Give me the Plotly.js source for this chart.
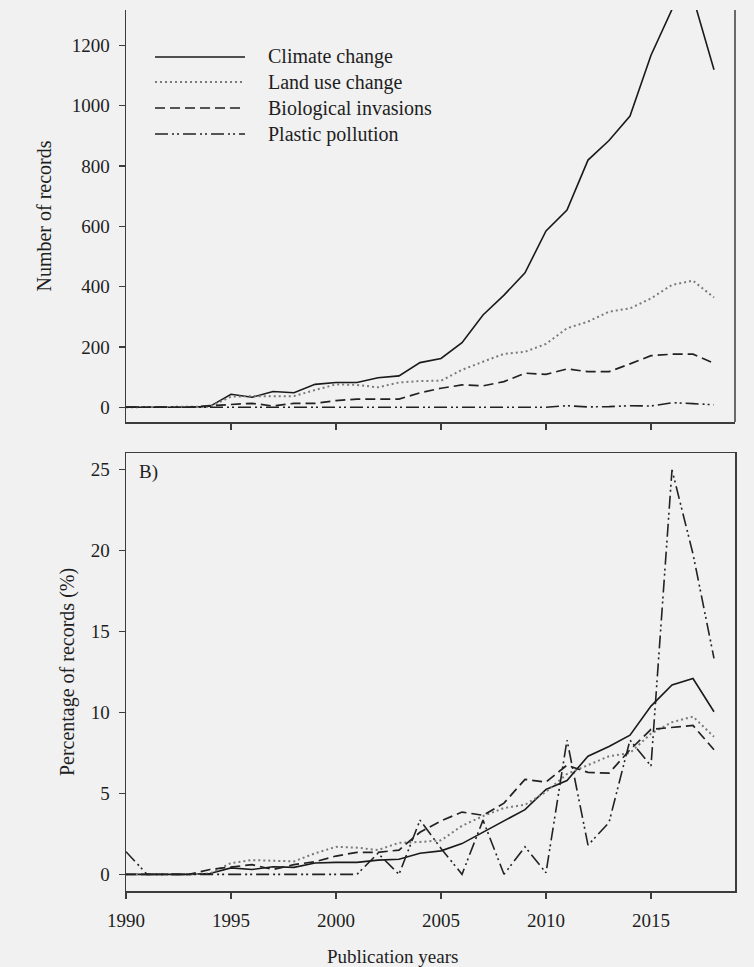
<!DOCTYPE html>
<html>
<head>
<meta charset="utf-8">
<script src="https://cdn.plot.ly/plotly-3.0.1.min.js"></script>
<style>
  html, body { margin: 0; padding: 0; background: #f1f1f1; }
  #chart { width: 754px; height: 967px; }
</style>
</head>
<body>
<div id="chart"></div>
<script>
// ---------- data ----------
const years = [1990,1991,1992,1993,1994,1995,1996,1997,1998,1999,2000,2001,2002,2003,2004,
               2005,2006,2007,2008,2009,2010,2011,2012,2013,2014,2015,2016,2017,2018];

const seriesNames = ["Climate change", "Land use change", "Biological invasions", "Plastic pollution"];

// Panel A: number of records
const climateCount = [0,0,0,0,3,43,33,52,48,76,82,82,98,104,148,162,214,306,372,446,585,654,820,885,966,1168,1320,1360,1120];
const landCount    = [0,0,0,0,2,35,37,36,37,57,76,74,66,82,87,88,124,151,177,184,210,262,284,317,328,361,406,420,364];
const bioCount     = [0,0,0,0,5,8,13,4,13,13,22,27,27,27,48,63,74,71,85,113,109,127,118,118,144,171,176,176,146];
const plasticCount = [1,0,0,0,0,0,0,0,0,0,0,0,1,0,2,1,0,2,0,1,0,5,1,2,5,4,15,12,8];

// Panel B: percentage of records (%)
const climatePct = [0,0,0,0,0.05,0.4,0.3,0.47,0.43,0.7,0.74,0.74,0.88,0.93,1.3,1.45,1.9,2.6,3.3,4.0,5.25,5.8,7.3,7.9,8.6,10.4,11.7,12.1,10.05];
const landPct    = [0,0,0,0,0.05,0.7,0.88,0.85,0.8,1.3,1.7,1.65,1.5,1.95,2.0,2.1,3.0,3.6,4.1,4.3,5.1,6.2,6.75,7.3,7.5,8.7,9.4,9.75,8.5];
const bioPct     = [0,0,0,0,0.3,0.45,0.6,0.3,0.6,0.78,1.13,1.36,1.36,1.5,2.6,3.3,3.85,3.65,4.4,5.87,5.7,6.75,6.3,6.25,7.7,8.96,9.1,9.2,7.7];
const plasticPct = [1.4,0,0,0,0,0,0,0,0,0,0,0,1.3,0,3.35,1.6,0,3.35,0,1.7,0.1,8.3,1.8,3.2,8.3,6.7,25.0,19.8,13.35];

const countTicks = [0,200,400,600,800,1000,1200];
const pctTicks = [0,5,10,15,20,25];
const yearTicks = [1990,1995,2000,2005,2010,2015];

// ---------- styles ----------
const FONT = "Liberation Serif, Times New Roman, serif";
const TXT = "#1e1e1e";
const styles = [
  {color: "#1a1a1a", width: 1.6, dash: "solid"},
  {color: "#7a7a7a", width: 2,   dash: "2px,3px"},
  {color: "#222222", width: 1.7, dash: "10px,5px"},
  {color: "#222222", width: 1.6, dash: "13px,4px,2px,3px,2px,4px"}
];

const countData = [climateCount, landCount, bioCount, plasticCount];
const pctData = [climatePct, landPct, bioPct, plasticPct];

const traces = [];
countData.forEach((d, i) => traces.push({
  x: years, y: d, type: "scatter", mode: "lines", name: seriesNames[i],
  line: styles[i], xaxis: "x", yaxis: "y", showlegend: false
}));
pctData.forEach((d, i) => traces.push({
  x: years, y: d, type: "scatter", mode: "lines", name: seriesNames[i],
  line: styles[i], xaxis: "x2", yaxis: "y2", showlegend: false
}));

// ---------- geometry helpers (pixel -> paper) ----------
const W = 754, H = 967, ML = 126, MR = 19, MT = 10, MB = 76;
const PW = W - ML - MR, PH = H - MT - MB;
const px = v => (v - ML) / PW;
const py = v => 1 - (v - MT) / PH;

const axisCommon = {
  showline: true, linecolor: "#3c3c3c", linewidth: 1.5,
  ticks: "outside", ticklen: 6, tickwidth: 1.3, tickcolor: "#3c3c3c",
  showgrid: false, zeroline: false,
  tickfont: {family: FONT, size: 19, color: TXT}
};

// custom legend (line samples + labels) in the upper-left of panel A
const legendY = [57, 82, 108, 134];
const shapes = [
  // right frame of panel A
  {type: "line", xref: "x domain", yref: "y domain", x0: 1, x1: 1, y0: 0, y1: 1,
   line: {color: "#3c3c3c", width: 1.5}}
];
const annotations = [];
seriesNames.forEach((n, i) => {
  shapes.push({type: "line", xref: "paper", yref: "paper",
    x0: px(155), x1: px(245), y0: py(legendY[i]), y1: py(legendY[i]),
    line: styles[i]});
  annotations.push({xref: "paper", yref: "paper", x: px(266), y: py(legendY[i]),
    xanchor: "left", yanchor: "middle", text: n, showarrow: false,
    font: {family: FONT, size: 20, color: TXT}});
});
annotations.push({xref: "paper", yref: "paper", x: px(137), y: py(472),
  xanchor: "left", yanchor: "middle", text: "B)", showarrow: false,
  font: {family: FONT, size: 19, color: TXT}});
annotations.push({xref: "paper", yref: "paper", x: px(392), y: py(956),
  xanchor: "center", yanchor: "middle", text: "Publication years", showarrow: false,
  font: {family: FONT, size: 19, color: TXT}});

const layout = {
  width: W, height: H,
  margin: {l: ML, r: MR, t: MT, b: MB, pad: 0},
  paper_bgcolor: "#f1f1f1", plot_bgcolor: "#f1f1f1",
  font: {family: FONT, color: TXT},
  showlegend: false,
  xaxis: Object.assign({}, axisCommon, {
    domain: [0, 1], range: [1990, 2019], anchor: "y",
    tickvals: yearTicks.slice(1), showticklabels: false
  }),
  yaxis: Object.assign({}, axisCommon, {
    domain: [py(422), 1], range: [-49, 1318], anchor: "x",
    tickvals: countTicks, ticklabelstandoff: 5,
    title: {text: "Number of records", font: {family: FONT, size: 20, color: TXT}, standoff: 14}
  }),
  xaxis2: Object.assign({}, axisCommon, {
    domain: [0, 1], range: [1990, 2019], anchor: "y2", mirror: true,
    tickvals: yearTicks, ticklabelstandoff: 6
  }),
  yaxis2: Object.assign({}, axisCommon, {
    domain: [0, py(453)], range: [-1.03, 26.04], anchor: "x2", mirror: true,
    tickvals: pctTicks, ticklabelstandoff: 5,
    title: {text: "Percentage of records (%)", font: {family: FONT, size: 20, color: TXT}, standoff: 10}
  }),
  shapes: shapes,
  annotations: annotations
};

Plotly.newPlot("chart", traces, layout, {displayModeBar: false, staticPlot: true});
</script>
</body>
</html>
